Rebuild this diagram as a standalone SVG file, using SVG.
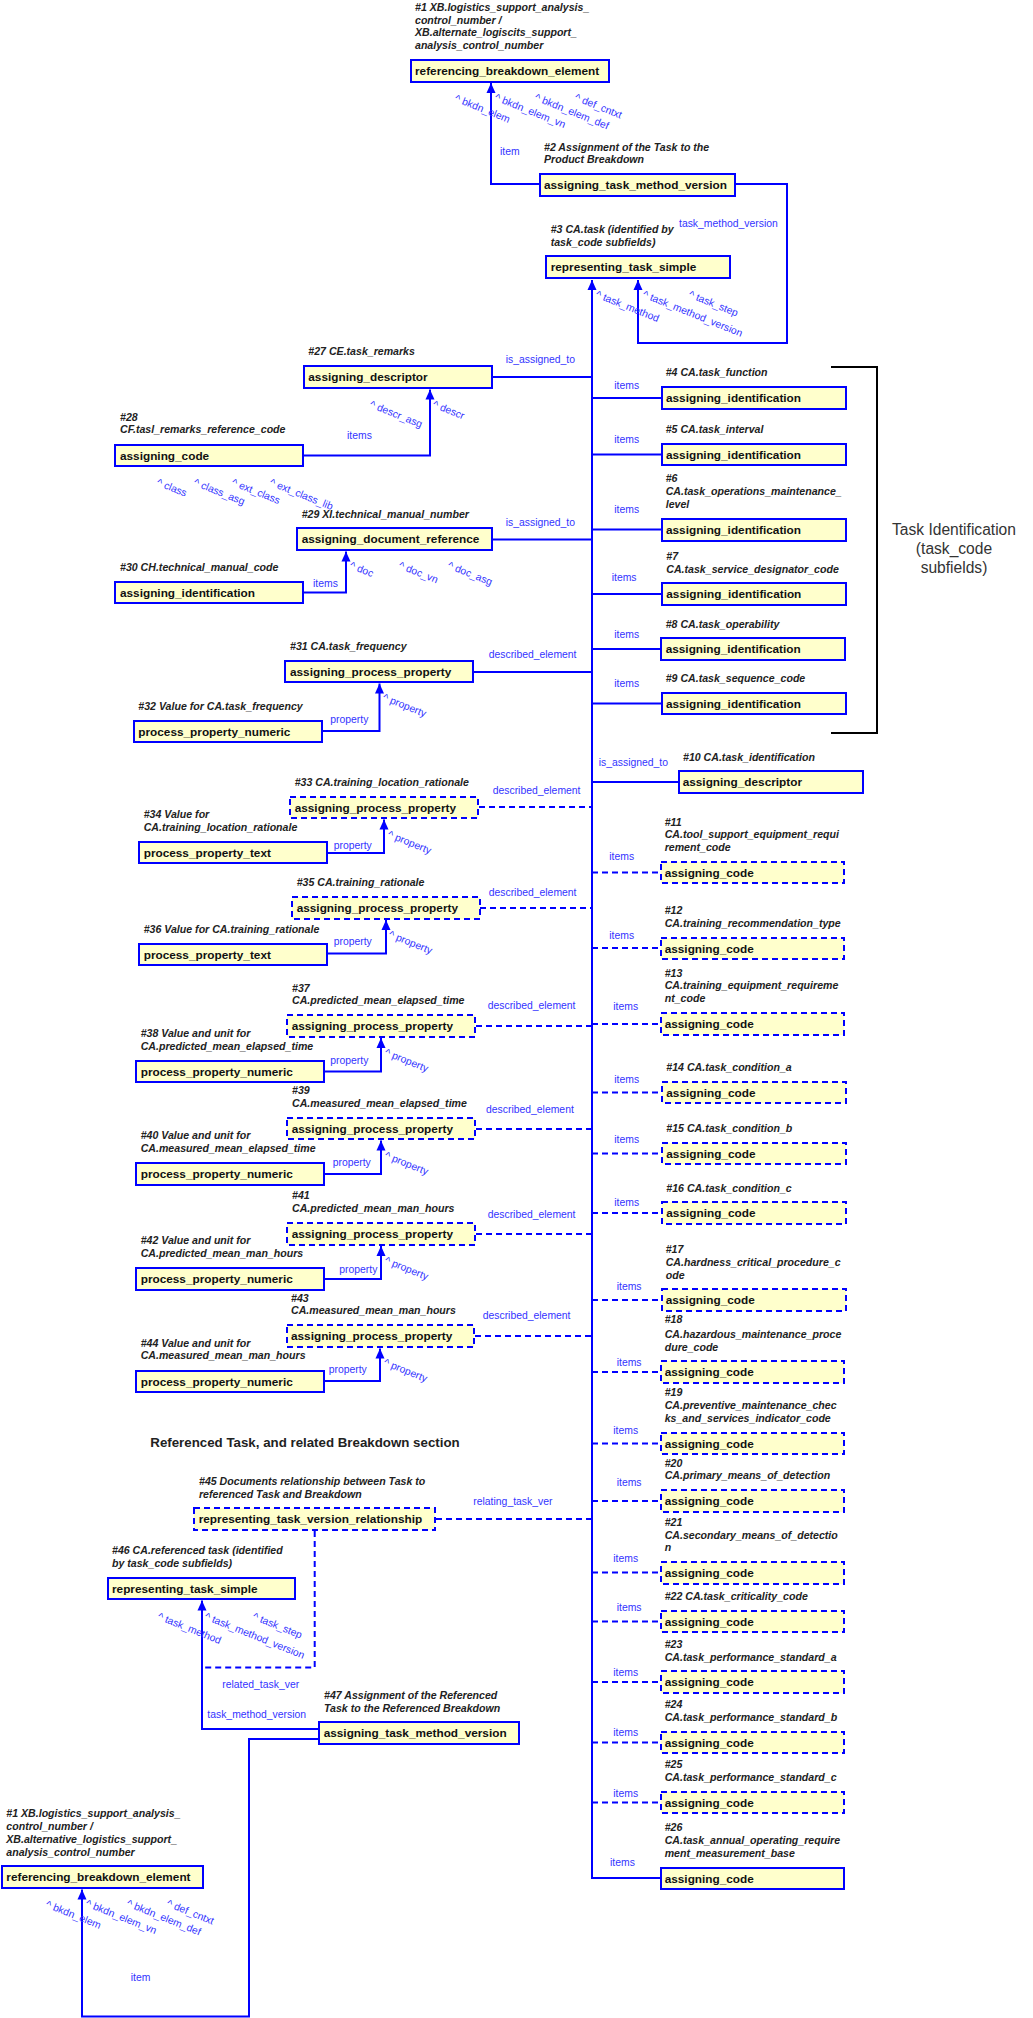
<svg xmlns="http://www.w3.org/2000/svg" width="1033" height="2018" viewBox="0 0 1033 2018">
<style>
.bx{fill:#ffffcc;stroke:#0000ff;stroke-width:2}
.dx{fill:#ffffcc;stroke:#0000ff;stroke-width:2;stroke-dasharray:6,4}
.nt{font-family:"Liberation Sans",Arial,sans-serif;font-weight:bold;font-size:11.8px;fill:#111}
.lb{font-family:"Liberation Sans",Arial,sans-serif;font-weight:bold;font-style:italic;font-size:10.6px;fill:#222}
.bl{font-family:"Liberation Sans",Arial,sans-serif;font-size:10.4px;fill:#3333ff}
.c{fill:none;stroke:#0000ff;stroke-width:2}
.d{fill:none;stroke:#0000ff;stroke-width:2;stroke-dasharray:6,4}
.ar{marker-end:url(#ah)}
.ti{font-family:"Liberation Sans",Arial,sans-serif;font-size:15.6px;fill:#333;text-anchor:middle}
.st{font-family:"Liberation Sans",Arial,sans-serif;font-weight:bold;font-size:13.3px;fill:#222}
</style>
<defs>
<marker id="ah" markerUnits="userSpaceOnUse" markerWidth="10" markerHeight="10" viewBox="0 0 10 10" refX="10" refY="5" orient="auto"><path d="M0,0.5 L10,5 L0,9.5 z" fill="#0000ff"/></marker>
</defs>

<g id="connectors">
<path class="c ar" d="M539,184 H491 V83"/>
<path class="c ar" d="M736,184 H787 V343 H638 V280"/>
<path class="c ar" d="M660,1878 H592 V280"/>
<path class="c" d="M493,377 H592"/>
<path class="c ar" d="M304,455.5 H430 V389.5"/>
<path class="c" d="M493,539.5 H592"/>
<path class="c ar" d="M304,592.5 H346 V551.5"/>
<path class="c" d="M473,672 H592"/>
<path class="c ar" d="M323,731 H379.5 V683.5"/>
<path class="d" d="M479,807 H592"/>
<path class="c ar" d="M327,853 H384 V819.5"/>
<path class="d" d="M480,908 H592"/>
<path class="c ar" d="M327,953.5 H386 V920"/>
<path class="d" d="M476,1026 H592"/>
<path class="c ar" d="M324,1071.5 H381 V1038"/>
<path class="d" d="M476,1129 H592"/>
<path class="c ar" d="M324,1174 H381 V1140.5"/>
<path class="d" d="M476,1234 H592"/>
<path class="c ar" d="M324,1279 H381 V1246"/>
<path class="d" d="M475,1336 H592"/>
<path class="c ar" d="M324,1381 H380 V1348.5"/>
<path class="d" d="M436,1519 H592"/>
<path class="d" d="M314.7,1531 V1667.5 H202"/>
<path class="c ar" d="M318,1729 H202 V1600.5"/>
<path class="c ar" d="M318,1739 H249 V2016.5 H82 V1889.5"/>
<path class="c" d="M592,398 H661"/>
<path class="c" d="M592,454.5 H661"/>
<path class="c" d="M592,529.5 H661"/>
<path class="c" d="M592,594 H661"/>
<path class="c" d="M592,649 H660"/>
<path class="c" d="M592,703.5 H661"/>
<path class="c" d="M592,782 H678"/>
<path class="d" d="M592,872.5 H660"/>
<path class="d" d="M592,948 H660"/>
<path class="d" d="M592,1024 H660"/>
<path class="d" d="M592,1092.5 H661"/>
<path class="d" d="M592,1153.5 H661"/>
<path class="d" d="M592,1213 H661"/>
<path class="d" d="M592,1300 H661"/>
<path class="d" d="M592,1372 H660"/>
<path class="d" d="M592,1443.5 H660"/>
<path class="d" d="M592,1501 H660"/>
<path class="d" d="M592,1572.5 H660"/>
<path class="d" d="M592,1621.5 H660"/>
<path class="d" d="M592,1682 H660"/>
<path class="d" d="M592,1742.5 H660"/>
<path class="d" d="M592,1802.5 H660"/>
<g class="bl">
<text x="500" y="155">item</text>
<text x="679" y="227">task_method_version</text>
<text x="505.7" y="363">is_assigned_to</text>
<text x="347" y="439">items</text>
<text x="505.7" y="526">is_assigned_to</text>
<text x="313" y="587">items</text>
<text x="488.7" y="658.3">described_element</text>
<text x="330.3" y="723.3">property</text>
<text x="492.7" y="794">described_element</text>
<text x="333.7" y="849.3">property</text>
<text x="488.7" y="896">described_element</text>
<text x="333.7" y="945">property</text>
<text x="487.7" y="1009.3">described_element</text>
<text x="330.3" y="1064">property</text>
<text x="486" y="1113.3">described_element</text>
<text x="332.7" y="1165.7">property</text>
<text x="487.7" y="1217.7">described_element</text>
<text x="339.3" y="1273.3">property</text>
<text x="482.7" y="1319.3">described_element</text>
<text x="328.7" y="1372.7">property</text>
<text x="473.3" y="1505">relating_task_ver</text>
<text x="222.3" y="1688.3">related_task_ver</text>
<text x="207.3" y="1718.3">task_method_version</text>
<text x="130.7" y="1980.7">item</text>
<text x="614.3" y="389">items</text>
<text x="614.3" y="443.3">items</text>
<text x="614.3" y="513.3">items</text>
<text x="611.7" y="581">items</text>
<text x="614.3" y="637.7">items</text>
<text x="614.3" y="686.7">items</text>
<text x="598.7" y="766">is_assigned_to</text>
<text x="609.3" y="860">items</text>
<text x="609.3" y="939.3">items</text>
<text x="613.3" y="1010">items</text>
<text x="614.3" y="1083.3">items</text>
<text x="614.3" y="1143.3">items</text>
<text x="614.3" y="1206">items</text>
<text x="616.7" y="1290">items</text>
<text x="616.7" y="1365.7">items</text>
<text x="613.3" y="1433.7">items</text>
<text x="616.7" y="1486.3">items</text>
<text x="613.3" y="1562">items</text>
<text x="616.7" y="1611.3">items</text>
<text x="613.3" y="1675.7">items</text>
<text x="613.3" y="1736">items</text>
<text x="613.3" y="1796.7">items</text>
<text x="610" y="1865.7">items</text>
<text transform="translate(454,101) rotate(22)">^ bkdn_elem</text>
<text transform="translate(494,100) rotate(22)">^ bkdn_elem_vn</text>
<text transform="translate(534,100) rotate(22)">^ bkdn_elem_def</text>
<text transform="translate(574,100) rotate(22)">^ def_cntxt</text>
<text transform="translate(595,297) rotate(22)">^ task_method</text>
<text transform="translate(642,297) rotate(22)">^ task_method_version</text>
<text transform="translate(688,297) rotate(22)">^ task_step</text>
<text transform="translate(369,407) rotate(22)">^ descr_asg</text>
<text transform="translate(432,407) rotate(22)">^ descr</text>
<text transform="translate(156,485) rotate(22)">^ class</text>
<text transform="translate(193,485) rotate(22)">^ class_asg</text>
<text transform="translate(231,485) rotate(22)">^ ext_class</text>
<text transform="translate(269,485) rotate(22)">^ ext_class_lib</text>
<text transform="translate(349,568) rotate(22)">^ doc</text>
<text transform="translate(398,568) rotate(22)">^ doc_vn</text>
<text transform="translate(447,568) rotate(22)">^ doc_asg</text>
<text transform="translate(382,700) rotate(22)">^ property</text>
<text transform="translate(387,837) rotate(22)">^ property</text>
<text transform="translate(388,937) rotate(22)">^ property</text>
<text transform="translate(384,1055) rotate(22)">^ property</text>
<text transform="translate(384,1158) rotate(22)">^ property</text>
<text transform="translate(384,1263) rotate(22)">^ property</text>
<text transform="translate(383,1365) rotate(22)">^ property</text>
<text transform="translate(157,1619) rotate(22)">^ task_method</text>
<text transform="translate(204,1619) rotate(22)">^ task_method_version</text>
<text transform="translate(252,1619) rotate(22)">^ task_step</text>
<text transform="translate(45,1907) rotate(22)">^ bkdn_elem</text>
<text transform="translate(85,1906) rotate(22)">^ bkdn_elem_vn</text>
<text transform="translate(126,1906) rotate(22)">^ bkdn_elem_def</text>
<text transform="translate(166,1906) rotate(22)">^ def_cntxt</text>
</g>
</g>

<g id="n1top"><text class="lb"><tspan x="415" y="11">#1 XB.logistics_support_analysis_</tspan><tspan x="415" y="23.7">control_number /</tspan><tspan x="415" y="36.3">XB.alternate_logiscits_support_</tspan><tspan x="415" y="49">analysis_control_number</tspan></text><rect class="bx" x="411" y="60" width="198" height="22"/><text class="nt" x="415" y="75">referencing_breakdown_element</text></g>
<g id="n2"><text class="lb"><tspan x="544" y="150.7">#2 Assignment of the Task to the</tspan><tspan x="544" y="163.3">Product Breakdown</tspan></text><rect class="bx" x="540" y="174" width="195" height="22"/><text class="nt" x="544" y="189">assigning_task_method_version</text></g>
<g id="n3"><text class="lb"><tspan x="550.7" y="233">#3 CA.task (identified by</tspan><tspan x="550.7" y="246">task_code subfields)</tspan></text><rect class="bx" x="546" y="256" width="184" height="22"/><text class="nt" x="550.7" y="271">representing_task_simple</text></g>
<g id="n27"><text class="lb" x="308.3" y="355">#27 CE.task_remarks</text><rect class="bx" x="304" y="366" width="188" height="22"/><text class="nt" x="308.3" y="381">assigning_descriptor</text></g>
<g id="n28"><text class="lb"><tspan x="120" y="420.7">#28</tspan><tspan x="120" y="433.3">CF.tasl_remarks_reference_code</tspan></text><rect class="bx" x="115" y="445" width="188" height="21"/><text class="nt" x="120" y="460">assigning_code</text></g>
<g id="n29"><text class="lb" x="301.7" y="517.7">#29 XI.technical_manual_number</text><rect class="bx" x="297" y="528" width="195" height="22"/><text class="nt" x="301.7" y="543">assigning_document_reference</text></g>
<g id="n30"><text class="lb" x="120" y="570.7">#30 CH.technical_manual_code</text><rect class="bx" x="115" y="582" width="188" height="21"/><text class="nt" x="120" y="597">assigning_identification</text></g>
<g id="n31"><text class="lb" x="290" y="650">#31 CA.task_frequency</text><rect class="bx" x="285" y="661" width="188" height="21"/><text class="nt" x="290" y="676">assigning_process_property</text></g>
<g id="n32"><text class="lb" x="138.3" y="710">#32 Value for CA.task_frequency</text><rect class="bx" x="134" y="721" width="188" height="21"/><text class="nt" x="138.3" y="736">process_property_numeric</text></g>
<g id="n33"><text class="lb" x="294.7" y="786">#33 CA.training_location_rationale</text><rect class="dx" x="290" y="797" width="188" height="21"/><text class="nt" x="294.7" y="812">assigning_process_property</text></g>
<g id="n34"><text class="lb"><tspan x="143.7" y="818.3">#34 Value for</tspan><tspan x="143.7" y="831">CA.training_location_rationale</tspan></text><rect class="bx" x="139" y="842" width="188" height="21"/><text class="nt" x="143.7" y="857">process_property_text</text></g>
<g id="n35"><text class="lb" x="296.7" y="886">#35 CA.training_rationale</text><rect class="dx" x="292" y="897" width="188" height="22"/><text class="nt" x="296.7" y="912">assigning_process_property</text></g>
<g id="n36"><text class="lb" x="143.7" y="932.7">#36 Value for CA.training_rationale</text><rect class="bx" x="139" y="944" width="188" height="21"/><text class="nt" x="143.7" y="959">process_property_text</text></g>
<g id="n37"><text class="lb"><tspan x="292" y="991.7">#37</tspan><tspan x="292" y="1004">CA.predicted_mean_elapsed_time</tspan></text><rect class="dx" x="287" y="1015" width="188" height="22"/><text class="nt" x="291.7" y="1030">assigning_process_property</text></g>
<g id="n38"><text class="lb"><tspan x="140.7" y="1036.7">#38 Value and unit for</tspan><tspan x="140.7" y="1050">CA.predicted_mean_elapsed_time</tspan></text><rect class="bx" x="136" y="1061" width="188" height="21"/><text class="nt" x="140.7" y="1076">process_property_numeric</text></g>
<g id="n39"><text class="lb"><tspan x="292" y="1094">#39</tspan><tspan x="292" y="1106.7">CA.measured_mean_elapsed_time</tspan></text><rect class="dx" x="287" y="1118" width="188" height="21"/><text class="nt" x="291.7" y="1133">assigning_process_property</text></g>
<g id="n40"><text class="lb"><tspan x="140.7" y="1139">#40 Value and unit for</tspan><tspan x="140.7" y="1152">CA.measured_mean_elapsed_time</tspan></text><rect class="bx" x="136" y="1163" width="188" height="22"/><text class="nt" x="140.7" y="1178">process_property_numeric</text></g>
<g id="n41"><text class="lb"><tspan x="292" y="1199.3">#41</tspan><tspan x="292" y="1212">CA.predicted_mean_man_hours</tspan></text><rect class="dx" x="287" y="1223" width="188" height="22"/><text class="nt" x="291.7" y="1238">assigning_process_property</text></g>
<g id="n42"><text class="lb"><tspan x="140.7" y="1244">#42 Value and unit for</tspan><tspan x="140.7" y="1257.3">CA.predicted_mean_man_hours</tspan></text><rect class="bx" x="136" y="1268" width="188" height="22"/><text class="nt" x="140.7" y="1283">process_property_numeric</text></g>
<g id="n43"><text class="lb"><tspan x="291" y="1301.7">#43</tspan><tspan x="291" y="1314.3">CA.measured_mean_man_hours</tspan></text><rect class="dx" x="287" y="1325" width="187" height="22"/><text class="nt" x="291" y="1340">assigning_process_property</text></g>
<g id="n44"><text class="lb"><tspan x="140.7" y="1346.7">#44 Value and unit for</tspan><tspan x="140.7" y="1359.3">CA.measured_mean_man_hours</tspan></text><rect class="bx" x="136" y="1371" width="188" height="21"/><text class="nt" x="140.7" y="1386">process_property_numeric</text></g>
<text class="st" x="150.3" y="1447.3">Referenced Task, and related Breakdown section</text>
<g id="n45"><text class="lb"><tspan x="199" y="1485">#45 Documents relationship between Task to</tspan><tspan x="199" y="1497.7">referenced Task and Breakdown</tspan></text><rect class="dx" x="194" y="1508" width="241" height="22"/><text class="nt" x="198.7" y="1523">representing_task_version_relationship</text></g>
<g id="n46"><text class="lb"><tspan x="112" y="1554">#46 CA.referenced task (identified</tspan><tspan x="112" y="1566.7">by task_code subfields)</tspan></text><rect class="bx" x="108" y="1578" width="187" height="21"/><text class="nt" x="112" y="1593">representing_task_simple</text></g>
<g id="n47"><text class="lb"><tspan x="324" y="1699">#47 Assignment of the Referenced</tspan><tspan x="324" y="1711.7">Task to the Referenced Breakdown</tspan></text><rect class="bx" x="319" y="1722" width="200" height="22"/><text class="nt" x="323.7" y="1737">assigning_task_method_version</text></g>
<g id="n1bot"><text class="lb"><tspan x="6.3" y="1817.3">#1 XB.logistics_support_analysis_</tspan><tspan x="6.3" y="1830">control_number /</tspan><tspan x="6.3" y="1842.7">XB.alternative_logistics_support_</tspan><tspan x="6.3" y="1855.7">analysis_control_number</tspan></text><rect class="bx" x="2" y="1866" width="201" height="22"/><text class="nt" x="6.3" y="1881">referencing_breakdown_element</text></g>

<g id="n4"><text class="lb" x="665.7" y="376">#4 CA.task_function</text><rect class="bx" x="662" y="387" width="184" height="22"/><text class="nt" x="666" y="402">assigning_identification</text></g>
<g id="n5"><text class="lb" x="665.7" y="432.7">#5 CA.task_interval</text><rect class="bx" x="662" y="444" width="184" height="21"/><text class="nt" x="666" y="459">assigning_identification</text></g>
<g id="n6"><text class="lb"><tspan x="665.7" y="482.3">#6</tspan><tspan x="665.7" y="495">CA.task_operations_maintenance_</tspan><tspan x="665.7" y="507.7">level</tspan></text><rect class="bx" x="662" y="519" width="184" height="22"/><text class="nt" x="666" y="534">assigning_identification</text></g>
<g id="n7"><text class="lb"><tspan x="666.3" y="560">#7</tspan><tspan x="666.3" y="572.7">CA.task_service_designator_code</tspan></text><rect class="bx" x="662" y="583" width="184" height="22"/><text class="nt" x="666.3" y="598">assigning_identification</text></g>
<g id="n8"><text class="lb" x="665.7" y="627.7">#8 CA.task_operability</text><rect class="bx" x="661" y="638" width="184" height="22"/><text class="nt" x="665.7" y="653">assigning_identification</text></g>
<g id="n9"><text class="lb" x="665.7" y="682">#9 CA.task_sequence_code</text><rect class="bx" x="662" y="693" width="184" height="21"/><text class="nt" x="666" y="708">assigning_identification</text></g>
<g id="taskid"><path d="M831,367 H877 V733 H831" fill="none" stroke="#000" stroke-width="2"/><text class="ti"><tspan x="954" y="535">Task Identification</tspan><tspan x="954" y="554">(task_code</tspan><tspan x="954" y="573.3">subfields)</tspan></text></g>
<g id="n10"><text class="lb" x="683" y="760.7">#10 CA.task_identification</text><rect class="bx" x="679" y="771" width="184" height="22"/><text class="nt" x="682.7" y="786">assigning_descriptor</text></g>
<g id="n11"><text class="lb"><tspan x="664.7" y="825.7">#11</tspan><tspan x="664.7" y="838.3">CA.tool_support_equipment_requi</tspan><tspan x="664.7" y="851">rement_code</tspan></text><rect class="dx" x="661" y="862" width="183" height="21"/><text class="nt" x="664.7" y="877">assigning_code</text></g>
<g id="n12"><text class="lb"><tspan x="664.7" y="914">#12</tspan><tspan x="664.7" y="926.7">CA.training_recommendation_type</tspan></text><rect class="dx" x="661" y="938" width="183" height="21"/><text class="nt" x="664.7" y="953">assigning_code</text></g>
<g id="n13"><text class="lb"><tspan x="664.7" y="976.7">#13</tspan><tspan x="664.7" y="989.3">CA.training_equipment_requireme</tspan><tspan x="664.7" y="1002.3">nt_code</tspan></text><rect class="dx" x="661" y="1013" width="183" height="22"/><text class="nt" x="664.7" y="1028">assigning_code</text></g>
<g id="n14"><text class="lb" x="666.3" y="1071">#14 CA.task_condition_a</text><rect class="dx" x="662" y="1082" width="184" height="21"/><text class="nt" x="666.3" y="1097">assigning_code</text></g>
<g id="n15"><text class="lb" x="666.3" y="1132">#15 CA.task_condition_b</text><rect class="dx" x="662" y="1143" width="184" height="21"/><text class="nt" x="666.3" y="1158">assigning_code</text></g>
<g id="n16"><text class="lb" x="666.3" y="1192">#16 CA.task_condition_c</text><rect class="dx" x="662" y="1202" width="184" height="22"/><text class="nt" x="666.3" y="1217">assigning_code</text></g>
<g id="n17"><text class="lb"><tspan x="665.7" y="1252.7">#17</tspan><tspan x="665.7" y="1266">CA.hardness_critical_procedure_c</tspan><tspan x="665.7" y="1278.7">ode</tspan></text><rect class="dx" x="662" y="1289" width="184" height="22"/><text class="nt" x="665.7" y="1304">assigning_code</text></g>
<g id="n18"><text class="lb"><tspan x="664.7" y="1323.3">#18</tspan><tspan x="664.7" y="1337.7">CA.hazardous_maintenance_proce</tspan><tspan x="664.7" y="1350.7">dure_code</tspan></text><rect class="dx" x="661" y="1361" width="183" height="22"/><text class="nt" x="664.7" y="1376">assigning_code</text></g>
<g id="n19"><text class="lb"><tspan x="664.7" y="1396.3">#19</tspan><tspan x="664.7" y="1409">CA.preventive_maintenance_chec</tspan><tspan x="664.7" y="1421.7">ks_and_services_indicator_code</tspan></text><rect class="dx" x="661" y="1433" width="183" height="21"/><text class="nt" x="664.7" y="1448">assigning_code</text></g>
<g id="n20"><text class="lb"><tspan x="664.7" y="1466.7">#20</tspan><tspan x="664.7" y="1479.3">CA.primary_means_of_detection</tspan></text><rect class="dx" x="661" y="1490" width="183" height="22"/><text class="nt" x="664.7" y="1505">assigning_code</text></g>
<g id="n21"><text class="lb"><tspan x="664.7" y="1525.7">#21</tspan><tspan x="664.7" y="1538.7">CA.secondary_means_of_detectio</tspan><tspan x="664.7" y="1551.3">n</tspan></text><rect class="dx" x="661" y="1562" width="183" height="22"/><text class="nt" x="664.7" y="1577">assigning_code</text></g>
<g id="n22"><text class="lb" x="664.7" y="1600">#22 CA.task_criticality_code</text><rect class="dx" x="661" y="1611" width="183" height="21"/><text class="nt" x="664.7" y="1626">assigning_code</text></g>
<g id="n23"><text class="lb"><tspan x="664.7" y="1647.7">#23</tspan><tspan x="664.7" y="1660.7">CA.task_performance_standard_a</tspan></text><rect class="dx" x="661" y="1671" width="183" height="22"/><text class="nt" x="664.7" y="1686">assigning_code</text></g>
<g id="n24"><text class="lb"><tspan x="664.7" y="1708">#24</tspan><tspan x="664.7" y="1721">CA.task_performance_standard_b</tspan></text><rect class="dx" x="661" y="1732" width="183" height="21"/><text class="nt" x="664.7" y="1747">assigning_code</text></g>
<g id="n25"><text class="lb"><tspan x="664.7" y="1768">#25</tspan><tspan x="664.7" y="1781">CA.task_performance_standard_c</tspan></text><rect class="dx" x="661" y="1792" width="183" height="21"/><text class="nt" x="664.7" y="1807">assigning_code</text></g>
<g id="n26"><text class="lb"><tspan x="664.7" y="1831">#26</tspan><tspan x="664.7" y="1844">CA.task_annual_operating_require</tspan><tspan x="664.7" y="1856.7">ment_measurement_base</tspan></text><rect class="bx" x="661" y="1868" width="183" height="21"/><text class="nt" x="664.7" y="1883">assigning_code</text></g>
</svg>
